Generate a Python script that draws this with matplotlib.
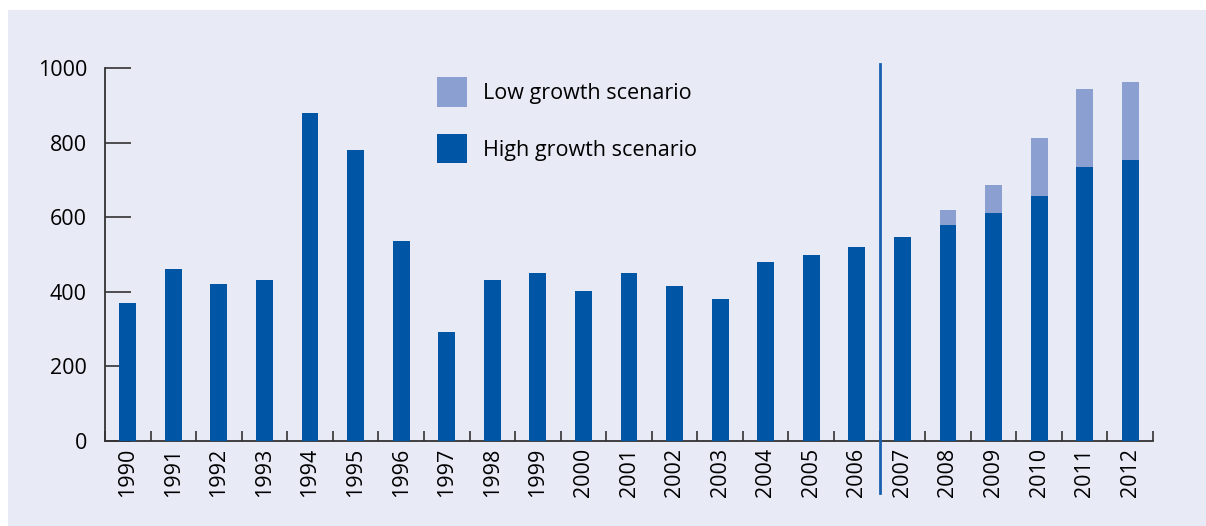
import matplotlib
matplotlib.use("Agg")
import matplotlib.pyplot as plt
import matplotlib.patches as mpatches
import numpy as np

years = ["1990", "1991", "1992", "1993", "1994", "1995", "1996", "1997", "1998",
         "1999", "2000", "2001", "2002", "2003", "2004", "2005", "2006", "2007",
         "2008", "2009", "2010", "2011", "2012"]
high_growth = [370, 461, 421, 432, 879, 780, 536, 292, 432, 450, 402, 450, 416,
               381, 480, 499, 520, 547, 579, 611, 657, 735, 753]
low_growth_total = [0, 0, 0, 0, 0, 0, 0, 0, 0, 0, 0, 0, 0, 0, 0, 0, 0, 0,
                    619, 686, 812, 944, 962]
yticks = [0, 200, 400, 600, 800, 1000]

bg = "#e8eaf6"
dark_blue = "#0055a5"
light_blue = "#8b9fd1"
axis_col = "#333333"

plt.rcParams["font.family"] = ["Open Sans", "DejaVu Sans"]

W, H = 1206, 526
fig = plt.figure(figsize=(W / 100, H / 100), dpi=100)
fig.patch.set_facecolor("white")
fig.patches.append(mpatches.Rectangle((8 / W, 0), 1, 1 - 10 / H, transform=fig.transFigure,
                                      facecolor=bg, edgecolor="none", zorder=-10))

ax = fig.add_axes([105 / W, 1 - 441 / H, (1153 - 105) / W, (441 - 68) / H])
ax.set_facecolor("none")

x = np.arange(len(years))
high = np.array(high_growth)
low_extra = np.where(np.array(low_growth_total) > 0, np.array(low_growth_total) - high, 0)

ax.bar(x, high, width=0.37, color=dark_blue, label="High growth scenario", zorder=3)
ax.bar(x, low_extra, width=0.37, bottom=high, color=light_blue,
       label="Low growth scenario", zorder=3)

ax.set_xlim(-0.5, len(years) - 0.5)
ax.set_ylim(0, 1000)

ax.set_yticks(yticks)
ax.tick_params(axis="y", direction="in", length=19, width=1.2, color=axis_col,
               pad=13, labelsize=15.5)
ax.set_xticks(x)
ax.set_xticklabels(years, rotation=90)
ax.tick_params(axis="x", length=0, pad=5, labelsize=15.5)
ax.set_xticks(np.arange(-0.5, len(years)), minor=True)
ax.tick_params(axis="x", which="minor", direction="in", length=7, width=1.2, color=axis_col)

for s in ["top", "right"]:
    ax.spines[s].set_visible(False)
for s in ["left", "bottom"]:
    ax.spines[s].set_color(axis_col)
    ax.spines[s].set_linewidth(1.3)

# forecast divider between 2006 and 2007
ax.plot([16.5, 16.5], [1010, -140], color="#1a5fae", lw=2, clip_on=False, zorder=4)

handles, labels = ax.get_legend_handles_labels()
ax.legend(handles[::-1], labels[::-1], loc="upper left",
          bbox_to_anchor=(437 / W, 1 - 77 / H), bbox_transform=fig.transFigure,
          frameon=False, fontsize=15.5, handlelength=1.4, handleheight=1.75,
          labelspacing=1.25, handletextpad=0.75, borderpad=0, borderaxespad=0)

fig.savefig("out.png", dpi=100, facecolor=fig.get_facecolor())
